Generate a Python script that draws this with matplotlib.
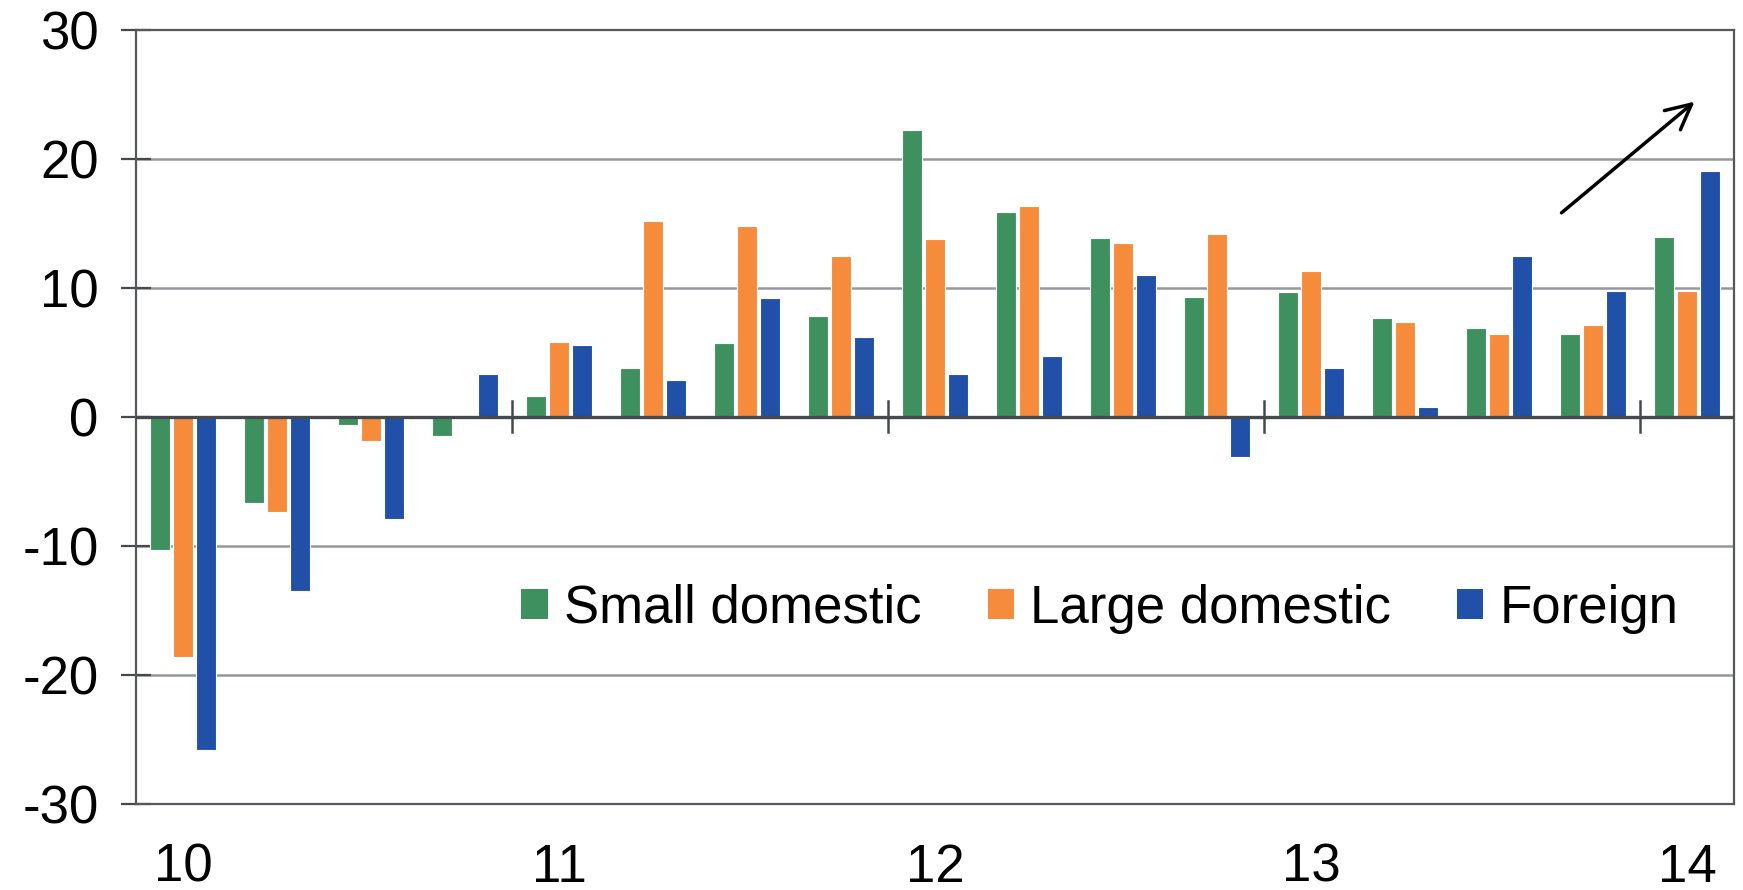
import numpy as np
import matplotlib
matplotlib.use("Agg")
import matplotlib.pyplot as plt
from matplotlib.patches import Patch

plt.rcParams['font.family'] = ['Liberation Sans', 'DejaVu Sans']

# quarters 2010Q1 .. 2014Q1
quarters = list(range(17))
year_labels = ['10', '11', '12', '13', '14']
small_domestic = [-10.3, -6.7, -0.6, -1.5, 1.6, 3.8, 5.7, 7.8, 22.3, 15.9, 13.9, 9.3, 9.7, 7.7, 6.9, 6.4, 14.0]
large_domestic = [-18.6, -7.4, -1.9, -0.1, 5.8, 15.2, 14.8, 12.5, 13.8, 16.4, 13.5, 14.2, 11.3, 7.4, 6.4, 7.1, 9.8]
foreign = [-25.8, -13.5, -7.9, 3.3, 5.6, 2.9, 9.2, 6.2, 3.3, 4.7, 11.0, -3.1, 3.8, 0.8, 12.5, 9.8, 19.1]

series = [('Small domestic', small_domestic, '#3e915f'),
          ('Large domestic', large_domestic, '#f58b3b'),
          ('Foreign', foreign, '#2050a8')]

fig = plt.figure(figsize=(17.43, 8.9), dpi=100)
ax = fig.add_axes([0.078, 0.097, 0.917, 0.869])

x = np.array(quarters)
w = 0.215
step = 0.244
for i, (name, vals, col) in enumerate(series):
    ax.bar(x + (i - 1) * step, vals, width=w, color=col, edgecolor='white',
           linewidth=0.8, label=name, zorder=3)

ax.set_xlim(-0.5, 16.5)
ax.set_ylim(-30, 30)

for yv in [-20, -10, 10, 20]:
    ax.axhline(yv, color='#94989d', lw=1.8, zorder=1)
ax.axhline(0, color='#45484c', lw=2.4, zorder=4)

# year separators on the zero line
for xs in [3.5, 7.5, 11.5, 15.5]:
    ax.plot([xs, xs], [-1.2, 1.2], color='#45484c', lw=1.8, zorder=4)

for s in ax.spines.values():
    s.set_color('#55585c')
    s.set_linewidth(1.6)

ax.set_yticks(range(-30, 31, 10))
ax.set_yticklabels([str(v) for v in range(-30, 31, 10)], fontsize=38)
ax.tick_params(axis='y', direction='inout', length=22, width=1.6,
               color='#45484c', pad=16)

ax.set_xticks([0, 4, 8, 12, 16])
ax.set_xticklabels(year_labels, fontsize=38)
ax.tick_params(axis='x', length=0, pad=28)

ax.annotate('', xy=(16.1, 24.6), xytext=(14.64, 15.7),
            arrowprops=dict(arrowstyle='->', lw=2.5, color='black',
                            mutation_scale=45), zorder=5)

handles = [Patch(facecolor=c, edgecolor='none') for _, _, c in series]
ax.legend(handles, [n for n, _, _ in series], loc='center',
          bbox_to_anchor=(0.603, 0.252), ncol=3, frameon=False, fontsize=38,
          handlelength=0.5, handleheight=0.5, handletextpad=0.3,
          columnspacing=1.26, borderpad=0)

fig.savefig('out.png', dpi=100)
